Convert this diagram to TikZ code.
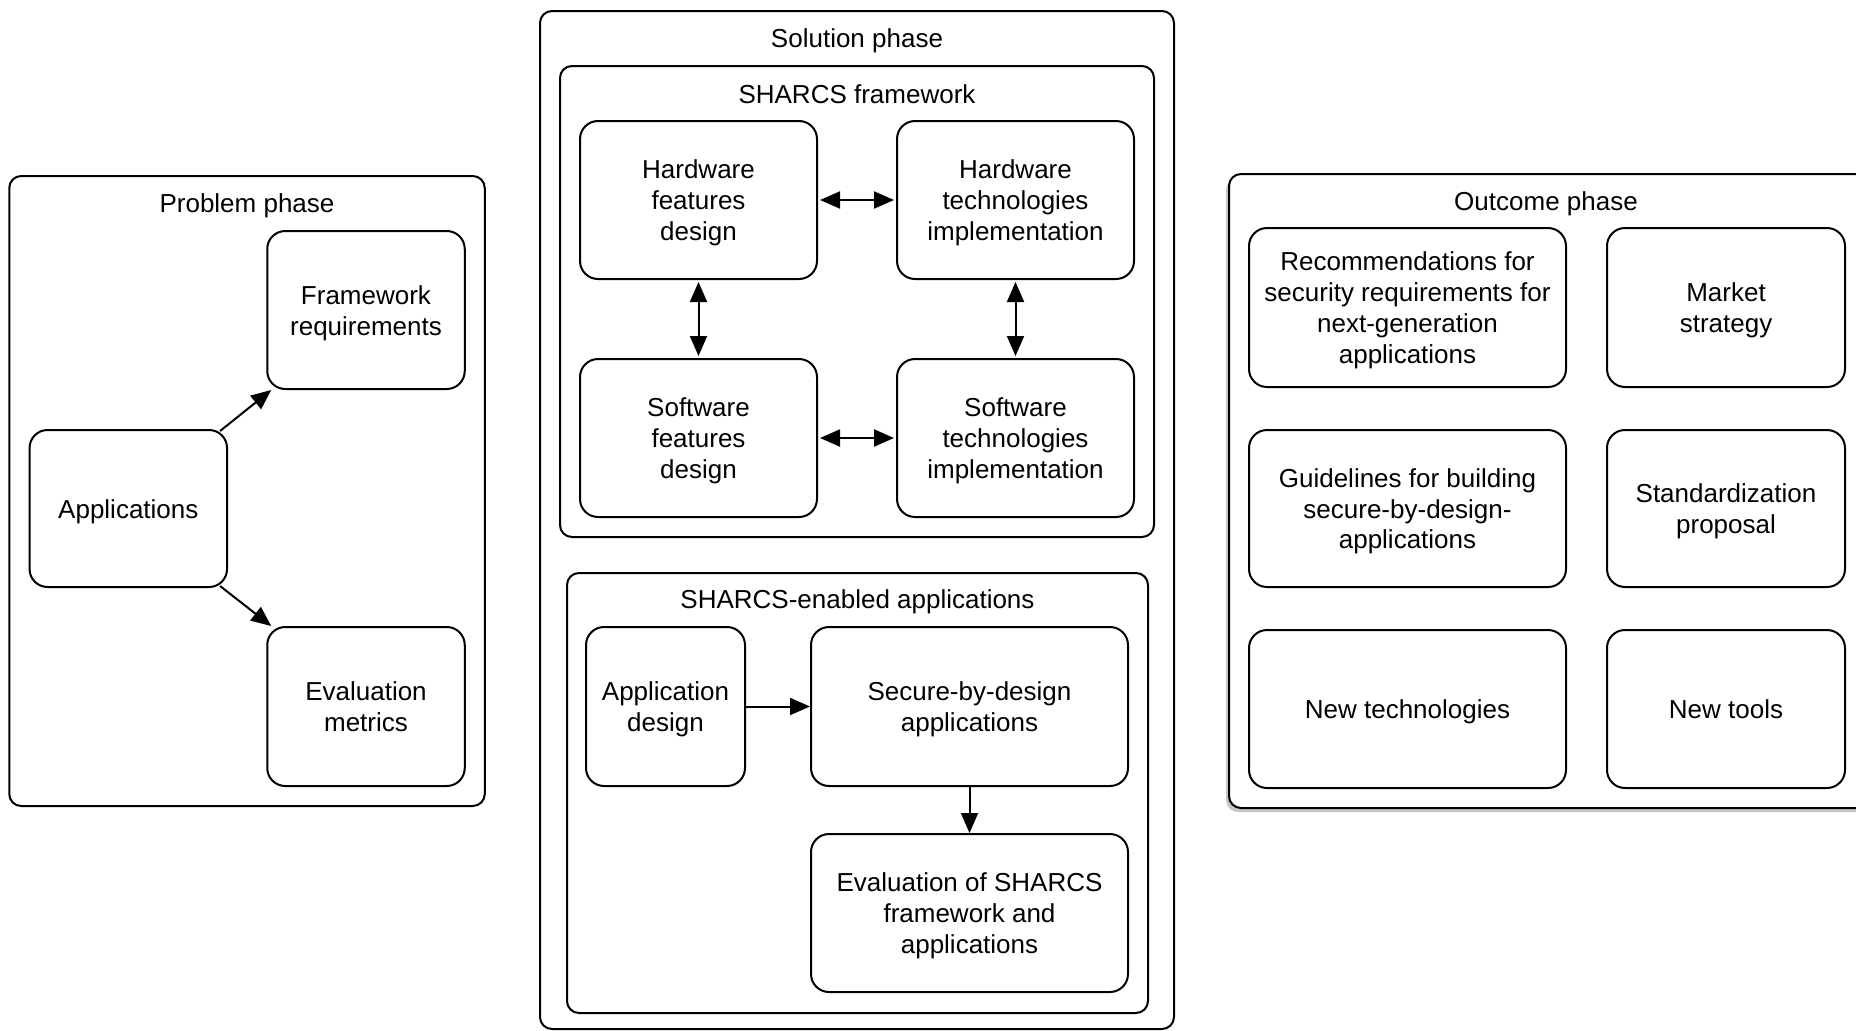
\documentclass[tikz,border=0pt]{standalone}
\usepackage{fontspec}
\setmainfont{Liberation Sans}
\usetikzlibrary{arrows.meta}
\newcommand{\T}[1]{\raisebox{-3.5pt}[\height][\depth]{\begin{tabular}{@{}c@{}}#1\end{tabular}}}
\begin{document}
\begin{tikzpicture}[x=1pt,y=-1pt,
  box/.style={draw=black, line width=2pt, rounded corners=18pt, inner sep=0pt, fill=white,
    font=\fontsize{26}{30.8}\selectfont},
  frame/.style={draw=black, line width=2pt, rounded corners=12pt, inner sep=0pt},
  ttl/.style={font=\fontsize{26}{31}\selectfont, inner sep=0pt, yshift=-3.5pt},
  tip/.style={Triangle[length=20pt,width=17pt]},
  arr/.style={line width=2pt, -{Triangle[length=20pt,width=17pt]}},
  darr/.style={line width=2pt, {Triangle[length=20pt,width=17pt]}-{Triangle[length=20pt,width=17pt]}}
]
\fill[white] (0,0) rectangle (1856,1031);
\useasboundingbox (0,0) rectangle (1856,1031);

% Problem phase
\node[frame, minimum width=475.5pt, minimum height=630pt] (pp) at (247,491) {};
\node[ttl] (ppt) at (247,202) {Problem phase};
\node[box, minimum width=197.5pt, minimum height=158pt] (fr) at (366,310) {\T{Framework\\requirements}};
\node[box, minimum width=197.5pt, minimum height=157pt] (app) at (128.3,508.5) {\T{Applications}};
\node[box, minimum width=197.5pt, minimum height=159pt] (em) at (366,706.5) {\T{Evaluation\\metrics}};
\draw[arr] ([xshift=-8pt,yshift=-2pt]app.north east) -- ([xshift=5pt]fr.south west);
\draw[arr] ([xshift=-8pt,yshift=2pt]app.south east) -- ([xshift=5pt]em.north west);

% Solution phase
\node[frame, minimum width=634pt, minimum height=1018pt] (sp) at (857,520) {};
\node[ttl] (spt) at (857,37) {Solution phase};
\node[frame, minimum width=594pt, minimum height=471pt] (sf) at (857,301.5) {};
\node[ttl] (sft) at (857,91) {SHARCS framework};
\node[box, minimum width=237pt, minimum height=158pt] (hwf) at (698.5,200) {\T{Hardware\\features\\design}};
\node[box, minimum width=237pt, minimum height=158pt] (hwt) at (1015.5,200) {\T{Hardware\\technologies\\implementation}};
\node[box, minimum width=237pt, minimum height=158pt] (swf) at (698.5,438) {\T{Software\\features\\design}};
\node[box, minimum width=237pt, minimum height=158pt] (swt) at (1015.5,438) {\T{Software\\technologies\\implementation}};
\draw[darr] ([xshift=2pt]hwf.east) -- ([xshift=-2pt]hwt.west);
\draw[darr] ([xshift=2pt]swf.east) -- ([xshift=-2pt]swt.west);
\draw[darr] ([yshift=-2pt]hwf.south) -- ([yshift=2pt]swf.north);
\draw[darr] ([yshift=-2pt]hwt.south) -- ([yshift=2pt]swt.north);

\node[frame, minimum width=581pt, minimum height=440pt] (se) at (857.5,793) {};
\node[ttl] (set) at (857.5,598) {SHARCS-enabled applications};
\node[box, minimum width=159pt, minimum height=159pt] (ad) at (665.5,706.5) {\T{Application\\design}};
\node[box, minimum width=317pt, minimum height=159pt] (sbd) at (969.5,706.5) {\T{Secure-by-design\\applications}};
\node[box, minimum width=317pt, minimum height=158pt] (ev) at (969.5,913) {\T{Evaluation of SHARCS\\framework and\\applications}};
\draw[arr] ([xshift=-2pt]ad.east) -- (sbd.west);
\draw[arr] (sbd.south) -- (ev.north);

% Outcome phase
\fill[gray!45, rounded corners=12pt] (1226,178) rectangle (1872,812);
\node[frame, fill=white, minimum width=641pt, minimum height=634pt] (op) at (1549.5,491) {};
\node[ttl] (opt) at (1546,200) {Outcome phase};
\node[box, minimum width=317pt, minimum height=159pt] (rec) at (1407.5,307.5) {\T{Recommendations for\\security requirements for\\next-generation\\applications}};
\node[box, minimum width=238pt, minimum height=159pt] (ms) at (1726,307.5) {\T{Market\\strategy}};
\node[box, minimum width=317pt, minimum height=157pt] (gl) at (1407.5,508.5) {\T{Guidelines for building\\secure-by-design-\\applications}};
\node[box, minimum width=238pt, minimum height=157pt] (sd) at (1726,508.5) {\T{Standardization\\proposal}};
\node[box, minimum width=317pt, minimum height=158pt] (nt) at (1407.5,709) {\T{New technologies}};
\node[box, minimum width=238pt, minimum height=158pt] (ntl) at (1726,709) {\T{New tools}};
\end{tikzpicture}
\end{document}
